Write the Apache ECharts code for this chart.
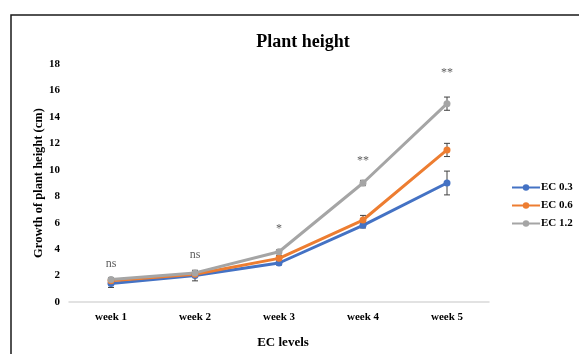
<!DOCTYPE html>
<html><head><meta charset="utf-8">
<script src="https://cdn.jsdelivr.net/npm/echarts@6/dist/echarts.min.js"></script>
<style>html,body{margin:0;padding:0;background:#fff}#c{width:579px;height:354px}</style>
</head><body><div id="c"></div>
<script>
var categories = ['week 1','week 2','week 3','week 4','week 5'];
var seriesNames = ['EC 0.3','EC 0.6','EC 1.2'];
var ec03 = [1.4, 2.0, 2.95, 5.8, 9.0];
var ec06 = [1.6, 2.1, 3.3, 6.2, 11.5];
var ec12 = [1.7, 2.2, 3.8, 9.0, 15.0];
var err03 = [0.3, 0.4, 0.15, 0.2, 0.9];
var err06 = [0.15, 0.15, 0.2, 0.35, 0.5];
var err12 = [0.15, 0.15, 0.15, 0.2, 0.5];
var sigLabels = ['ns','ns','*','**','**'];
var sigY = [2.9, 3.6, 5.5, 10.7, 17.3];
var yTicks = [0,2,4,6,8,10,12,14,16,18];

var colors = ['#4472C4','#ED7D31','#A5A5A5'];
var serif = '"Liberation Serif","Times New Roman",serif';
var chart = echarts.init(document.getElementById('c'));

function errSeries(vals, errs, name) {
  var data = vals.map(function(v,i){ return [i, v-errs[i], v+errs[i]]; });
  return {
    type:'custom', name: name + ' err', silent:true, z:1,
    data: data,
    renderItem: function(params, api){
      var x = api.value(0);
      var lo = api.coord([x, api.value(1)]);
      var hi = api.coord([x, api.value(2)]);
      var w = 3;
      var st = {stroke:'#404040', lineWidth:1};
      return {type:'group', children:[
        {type:'line', shape:{x1:lo[0],y1:lo[1],x2:hi[0],y2:hi[1]}, style:st},
        {type:'line', shape:{x1:lo[0]-w,y1:lo[1],x2:lo[0]+w,y2:lo[1]}, style:st},
        {type:'line', shape:{x1:hi[0]-w,y1:hi[1],x2:hi[0]+w,y2:hi[1]}, style:st}
      ]};
    }
  };
}
function lineSeries(name, vals, color){
  return {type:'line', name:name, data:vals, color:color, z:3,
    symbol:'circle', symbolSize:7,
    lineStyle:{width:3, color:color}, itemStyle:{color:color}};
}
var maxY = yTicks[yTicks.length-1];
var intv = yTicks[1]-yTicks[0];

chart.setOption({
  animation:false,
  backgroundColor:'#fff',
  title:{text:'Plant height', left:298, top:28, textAlign:'center',
    textStyle:{fontFamily:serif, fontWeight:'bold', fontSize:18, color:'#000'}},
  legend:{data:seriesNames, orient:'vertical', left:506, top:177, itemGap:7,
    itemWidth:28, itemHeight:8,
    textStyle:{fontFamily:serif, fontWeight:'bold', fontSize:11, color:'#000', padding:[0,0,0,-4]}},
  grid:{left:69, right:90, top:64, bottom:51},
  xAxis:{type:'category', data:categories, boundaryGap:true,
    name:'EC levels', nameLocation:'middle', nameGap:34, nameMoveOverlap:false,
    nameTextStyle:{fontFamily:serif, fontWeight:'bold', fontSize:13, color:'#000', padding:[0,0,0,8]},
    axisLine:{lineStyle:{color:'#d9d9d9', width:1.5}}, axisTick:{show:false},
    axisLabel:{fontFamily:serif, fontWeight:'bold', fontSize:11, color:'#000', margin:10}},
  yAxis:{type:'value', min:0, max:maxY, interval:intv,
    name:'Growth of plant height (cm)', nameLocation:'middle', nameGap:24, nameMoveOverlap:false,
    nameTextStyle:{fontFamily:serif, fontWeight:'bold', fontSize:12.5, color:'#000'},
    axisLine:{show:false}, axisTick:{show:false}, splitLine:{show:false},
    axisLabel:{fontFamily:serif, fontWeight:'bold', fontSize:11, color:'#000', margin:9}},
  graphic:[{type:'rect', shape:{x:11, y:15, width:620, height:400},
    style:{fill:'none', stroke:'#1a1a1a', lineWidth:1.5}, silent:true}],
  series:[
    errSeries(ec03, err03, seriesNames[0]),
    errSeries(ec06, err06, seriesNames[1]),
    errSeries(ec12, err12, seriesNames[2]),
    lineSeries(seriesNames[0], ec03, colors[0]),
    lineSeries(seriesNames[1], ec06, colors[1]),
    lineSeries(seriesNames[2], ec12, colors[2]),
    {type:'scatter', name:'sig', symbolSize:0, silent:true, z:5,
      data: sigY.map(function(v,i){ return {value:[i, v], label:{formatter: sigLabels[i]}}; }),
      label:{show:true, position:'inside', fontFamily:serif, fontSize:12, color:'#333'}}
  ]
});
</script></body></html>
